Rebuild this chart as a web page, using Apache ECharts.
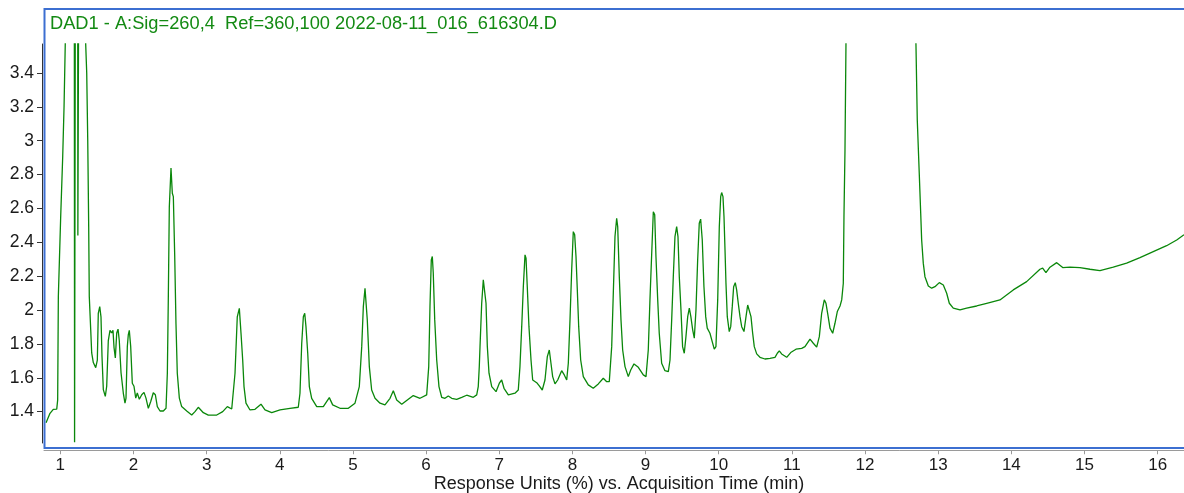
<!DOCTYPE html>
<html>
<head>
<meta charset="utf-8">
<title>DAD1 chromatogram</title>
<script src="https://cdn.jsdelivr.net/npm/echarts@6/dist/echarts.min.js"></script>
<style>
  html, body { margin: 0; padding: 0; background: #fff; }
  #chart { width: 1184px; height: 493px; }
</style>
</head>
<body>
<div id="chart"></div>
<script>
// Acquisition time (min) of each trace sample
var acqTime = [
  0.805, 0.859, 0.904, 0.951, 0.964, 0.973, 1.005, 1.033, 1.051, 1.068,
  1.09, 1.13, 1.17, 1.19, 1.195, 1.203, 1.21, 1.235, 1.240, 1.258,
  1.262, 1.30, 1.33, 1.347, 1.361, 1.375, 1.388, 1.396, 1.416, 1.429,
  1.451, 1.484, 1.506, 1.519, 1.539, 1.556, 1.570, 1.588, 1.615, 1.634,
  1.656, 1.679, 1.703, 1.720, 1.734, 1.752, 1.771, 1.789, 1.806, 1.830,
  1.861, 1.884, 1.898, 1.916, 1.929, 1.943, 1.962, 1.984, 2.007, 2.031,
  2.052, 2.080, 2.113, 2.144, 2.171, 2.203, 2.236, 2.271, 2.299, 2.326,
  2.363, 2.408, 2.445, 2.463, 2.476, 2.490, 2.513, 2.527, 2.531, 2.545,
  2.564, 2.581, 2.599, 2.627, 2.659, 2.728, 2.796, 2.841, 2.886, 2.955,
  3.023, 3.138, 3.220, 3.283, 3.343, 3.365, 3.388, 3.419, 3.447, 3.470,
  3.493, 3.511, 3.538, 3.593, 3.661, 3.743, 3.798, 3.890, 4.003, 4.140,
  4.253, 4.276, 4.300, 4.322, 4.341, 4.358, 4.382, 4.404, 4.436, 4.505,
  4.595, 4.677, 4.723, 4.823, 4.937, 5.028, 5.087, 5.120, 5.142, 5.165,
  5.179, 5.196, 5.224, 5.256, 5.302, 5.370, 5.438, 5.507, 5.552, 5.598,
  5.667, 5.757, 5.825, 5.917, 6.008, 6.036, 6.053, 6.071, 6.085, 6.098,
  6.118, 6.145, 6.176, 6.213, 6.258, 6.303, 6.350, 6.418, 6.487, 6.555,
  6.645, 6.692, 6.713, 6.727, 6.737, 6.760, 6.782, 6.801, 6.819, 6.837,
  6.860, 6.897, 6.956, 7.001, 7.033, 7.065, 7.124, 7.215, 7.260, 7.283,
  7.307, 7.329, 7.352, 7.366, 7.383, 7.406, 7.434, 7.457, 7.512, 7.547,
  7.588, 7.625, 7.657, 7.684, 7.707, 7.730, 7.762, 7.799, 7.853, 7.889,
  7.922, 7.944, 7.967, 7.990, 8.012, 8.031, 8.049, 8.067, 8.086, 8.113,
  8.149, 8.217, 8.285, 8.354, 8.422, 8.469, 8.504, 8.537, 8.559, 8.582,
  8.605, 8.619, 8.641, 8.664, 8.687, 8.719, 8.764, 8.797, 8.842, 8.901,
  8.969, 9.006, 9.037, 9.060, 9.084, 9.106, 9.125, 9.142, 9.166, 9.187,
  9.220, 9.265, 9.311, 9.334, 9.357, 9.379, 9.402, 9.425, 9.443, 9.461,
  9.484, 9.506, 9.529, 9.552, 9.576, 9.598, 9.619, 9.644, 9.666, 9.689,
  9.712, 9.734, 9.753, 9.775, 9.798, 9.822, 9.843, 9.880, 9.911, 9.939,
  9.962, 9.986, 10.008, 10.027, 10.040, 10.058, 10.072, 10.086, 10.099, 10.117,
  10.144, 10.164, 10.185, 10.204, 10.226, 10.245, 10.267, 10.291, 10.314, 10.345,
  10.373, 10.396, 10.418, 10.441, 10.464, 10.486, 10.519, 10.564, 10.632, 10.701,
  10.769, 10.801, 10.828, 10.860, 10.929, 10.984, 11.056, 11.134, 11.179, 11.248,
  11.293, 11.339, 11.375, 11.407, 11.443, 11.466, 11.489, 11.521, 11.558, 11.589,
  11.621, 11.658, 11.681, 11.703, 11.712, 11.726, 11.74, 11.80, 12.00, 12.30,
  12.55, 12.68, 12.696, 12.714, 12.741, 12.761, 12.774, 12.796, 12.819, 12.865,
  12.911, 12.956, 13.015, 13.070, 13.116, 13.152, 13.206, 13.298, 13.389, 13.526,
  13.663, 13.844, 14.026, 14.209, 14.391, 14.428, 14.473, 14.528, 14.620, 14.702,
  14.801, 14.938, 15.075, 15.211, 15.393, 15.576, 15.758, 15.940, 16.122, 16.260,
  16.36
];

// Detector response for each sample above
var response = [
  1.335, 1.39, 1.414, 1.415, 1.47, 2.08, 2.55, 2.91, 3.2, 3.58,
  4.6, 5.8, 6.2, 5.0, 1.22, 1.22, 5.2, 5.6, 2.44, 2.44,
  5.4, 5.0, 4.0, 3.57, 3.40, 3.0, 2.49, 2.08, 1.88, 1.747,
  1.69, 1.66, 1.705, 1.98, 2.02, 1.96, 1.725, 1.53, 1.49, 1.55,
  1.82, 1.88, 1.865, 1.88, 1.78, 1.717, 1.865, 1.887, 1.82, 1.63,
  1.51, 1.45, 1.48, 1.785, 1.853, 1.88, 1.785, 1.568, 1.55, 1.48,
  1.51, 1.473, 1.50, 1.514, 1.48, 1.42, 1.46, 1.512, 1.50, 1.43,
  1.404, 1.404, 1.42, 1.627, 2.06, 2.61, 2.838, 2.83, 2.69, 2.67,
  2.315, 1.92, 1.627, 1.48, 1.43, 1.404, 1.38, 1.40, 1.426, 1.394,
  1.38, 1.38, 1.40, 1.43, 1.416, 1.41, 1.627, 1.96, 2.01, 1.863,
  1.705, 1.548, 1.45, 1.41, 1.414, 1.444, 1.41, 1.394, 1.41, 1.42,
  1.426, 1.509, 1.804, 1.96, 1.981, 1.902, 1.745, 1.548, 1.479, 1.43,
  1.43, 1.483, 1.44, 1.42, 1.42, 1.45, 1.548, 1.784, 2.02, 2.129,
  2.12, 1.942, 1.666, 1.528, 1.479, 1.45, 1.44, 1.479, 1.524, 1.469,
  1.444, 1.473, 1.495, 1.479, 1.499, 1.666, 2.02, 2.296, 2.316, 2.217,
  1.942, 1.705, 1.548, 1.485, 1.479, 1.493, 1.479, 1.473, 1.485, 1.497,
  1.485, 1.499, 1.548, 1.666, 1.784, 2.04, 2.178, 2.168, 2.04, 1.784,
  1.627, 1.548, 1.518, 1.568, 1.587, 1.538, 1.499, 1.509, 1.528, 1.666,
  1.902, 2.138, 2.326, 2.306, 2.138, 1.902, 1.705, 1.587, 1.571, 1.552,
  1.528, 1.587, 1.725, 1.764, 1.686, 1.607, 1.564, 1.587, 1.642, 1.617,
  1.587, 1.686, 1.942, 2.237, 2.463, 2.444, 2.316, 2.119, 1.902, 1.705,
  1.607, 1.558, 1.538, 1.564, 1.597, 1.577, 1.577, 1.784, 2.099, 2.434,
  2.542, 2.493, 2.197, 1.942, 1.764, 1.666, 1.607, 1.646, 1.682, 1.662,
  1.617, 1.607, 1.764, 2.06, 2.336, 2.581, 2.562, 2.316, 2.06, 1.863,
  1.686, 1.642, 1.636, 1.705, 1.942, 2.197, 2.434, 2.493, 2.434, 2.197,
  2.001, 1.784, 1.745, 1.843, 1.961, 2.011, 1.961, 1.883, 1.834, 2.001,
  2.296, 2.513, 2.537, 2.414, 2.138, 1.961, 1.893, 1.863, 1.814, 1.769,
  1.784, 2.06, 2.493, 2.67, 2.694, 2.67, 2.552, 2.355, 2.158, 1.961,
  1.873, 1.902, 2.02, 2.138, 2.162, 2.119, 2.04, 1.961, 1.902, 1.873,
  1.961, 2.03, 2.04, 1.961, 1.863, 1.784, 1.741, 1.721, 1.711, 1.715,
  1.721, 1.745, 1.759, 1.741, 1.721, 1.749, 1.769, 1.774, 1.784, 1.828,
  1.804, 1.781, 1.843, 1.981, 2.06, 2.04, 1.981, 1.893, 1.863, 1.922,
  1.991, 2.024, 2.06, 2.158, 2.552, 2.946, 3.6, 4.8, 6.0, 6.3,
  5.5, 3.8, 3.571, 3.123, 2.808, 2.572, 2.414, 2.277, 2.197, 2.142,
  2.129, 2.138, 2.162, 2.148, 2.099, 2.04, 2.011, 2.001, 2.011, 2.024,
  2.04, 2.06, 2.119, 2.168, 2.241, 2.247, 2.221, 2.253, 2.28, 2.251,
  2.253, 2.251, 2.241, 2.233, 2.253, 2.277, 2.31, 2.345, 2.38, 2.414,
  2.445
];

// Tick labels on each axis
var timeTicks = [1, 2, 3, 4, 5, 6, 7, 8, 9, 10, 11, 12, 13, 14, 15, 16];
var responseTicks = [1.4, 1.6, 1.8, 2, 2.2, 2.4, 2.6, 2.8, 3, 3.2, 3.4];

var traceTitle = 'DAD1 - A:Sig=260,4  Ref=360,100 2022-08-11_016_616304.D';
var timeAxisName = 'Response Units (%) vs. Acquisition Time (min)';

var TIME_MIN = 0.777, TIME_MAX = 16.36;

var tracePoints = acqTime.map(function (t, i) { return [t, response[i]]; });

var FONT = "'Liberation Sans', Arial, sans-serif";
var chart = echarts.init(document.getElementById('chart'), null, { renderer: 'canvas' });

chart.setOption({
  animation: false,
  backgroundColor: '#ffffff',
  grid: [
    // plotting area of the trace
    { left: 44, right: 0, top: 44, bottom: 50, containLabel: false },
    // thin strip that carries the time axis just below the frame
    { left: 44, right: 0, top: 450, bottom: 42, containLabel: false }
  ],
  xAxis: [
    {
      gridIndex: 0,
      type: 'value',
      min: TIME_MIN,
      max: TIME_MAX,
      show: false
    },
    {
      gridIndex: 1,
      type: 'value',
      min: TIME_MIN,
      max: TIME_MAX,
      position: 'bottom',
      name: timeAxisName,
      nameLocation: 'middle',
      nameGap: 15,
      nameTextStyle: { fontFamily: FONT, fontSize: 18, color: '#1a1a1a', verticalAlign: 'top', padding: [0, 0, 0, 10] },
      axisLine: { show: true, onZero: false, lineStyle: { color: '#9a9a9a', width: 1 } },
      axisTick: { show: true, length: 4, lineStyle: { color: '#9a9a9a' }, customValues: timeTicks },
      axisLabel: { fontFamily: FONT, fontSize: 17, color: '#1a1a1a', margin: 7, customValues: timeTicks },
      splitLine: { show: false }
    }
  ],
  yAxis: [
    {
      gridIndex: 0,
      type: 'value',
      min: 1.215,
      max: 3.571,
      offset: 2,
      axisLine: { show: true, onZero: false, lineStyle: { color: '#333', width: 1 } },
      axisTick: { show: true, length: 5, lineStyle: { color: '#333' }, customValues: responseTicks },
      axisLabel: { fontFamily: FONT, fontSize: 17.5, color: '#1a1a1a', margin: 8, customValues: responseTicks },
      splitLine: { show: false }
    },
    {
      gridIndex: 1,
      type: 'value',
      min: 0,
      max: 1,
      show: false
    }
  ],
  series: [{
    type: 'line',
    xAxisIndex: 0,
    yAxisIndex: 0,
    data: tracePoints,
    showSymbol: false,
    clip: true,
    lineStyle: { color: '#0a870a', width: 1.3 },
    emphasis: { disabled: true }
  }],
  graphic: [
    {
      type: 'rect',
      shape: { x: 44.5, y: 9, width: 1150, height: 439 },
      style: { fill: null, stroke: '#3c6fd1', lineWidth: 2 },
      silent: true,
      z: 100
    },
    {
      type: 'text',
      left: 50,
      top: 15,
      style: { text: traceTitle, fill: '#138a13', font: '18.25px ' + FONT },
      silent: true,
      z: 101
    }
  ]
});
</script>
</body>
</html>
